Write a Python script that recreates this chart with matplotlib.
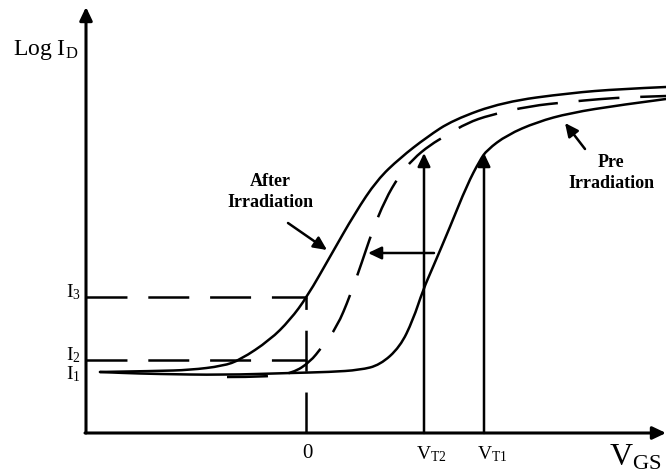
import numpy as np
import matplotlib.pyplot as plt
from matplotlib.path import Path
from matplotlib.patches import PathPatch

plt.rcParams['font.family'] = ['Liberation Serif', 'DejaVu Serif']
plt.rcParams['mathtext.fontset'] = 'custom'
plt.rcParams['mathtext.rm'] = 'Liberation Serif'
plt.rcParams['mathtext.it'] = 'Liberation Serif:italic'
plt.rcParams['mathtext.bf'] = 'Liberation Serif:bold'
plt.rcParams['lines.scale_dashes'] = False

# --- кривые (координаты схемы, ось y вниз) ---
pre_x = [100, 123, 157, 223, 290, 330, 360, 380, 400, 413, 423, 433, 450, 467,
         480, 487, 507, 537, 570, 620, 666]
pre_y = [372, 373, 374, 375, 373, 372, 370, 365, 347, 320, 290, 267, 227, 185,
         160, 150, 135, 122, 113, 105, 99]

after_x = [100, 157, 190, 223, 240, 270, 290, 307, 331, 355, 377, 400, 427, 453,
           503, 570, 620, 666]
after_y = [372, 371, 370, 366, 360, 340, 320, 297, 255, 213, 180, 158, 137, 120,
           102, 93, 89, 87]

mid_x = [227, 267, 293, 310, 322, 337, 350, 362, 372, 385, 399, 413, 430, 447,
         467, 490, 530, 568, 600, 632, 666]
mid_y = [377, 377, 373, 362, 347, 327, 296, 262, 232, 200, 176, 159, 145, 135,
         123, 115, 106, 102, 99, 97, 96]

# уровни токов и напряжения
x_axis, y_axis = 86, 433
i_levels = {'I$_3$': 297, 'I$_2$': 360}
i1_level = 379
v0 = 306
vt2, vt1 = 424, 484
vt_top = 153
shift_y, shift_from, shift_to = 253, 434, 368

fig = plt.figure(figsize=(6.66, 4.72), dpi=100)
ax = fig.add_axes([0, 0, 1, 1])
ax.set_xlim(0, 666)
ax.set_ylim(472, 0)
ax.axis('off')

lw = 1.8
dash = (0, (29.5, 15))

def arrow(x0, y0, x1, y1, width=lw):
    ax.annotate('', xy=(x1, y1), xytext=(x0, y0),
                arrowprops=dict(arrowstyle='-|>,head_length=0.8,head_width=0.38',
                                lw=width, color='black', shrinkA=0, shrinkB=0,
                                mutation_scale=10))

def smooth_curve(xs, ys, **kw):
    # квадратичные Безье через середины отрезков
    pts = np.column_stack([xs, ys]).astype(float)
    verts = [pts[0]]
    codes = [Path.MOVETO]
    for i in range(1, len(pts) - 1):
        m = (pts[i] + pts[i + 1]) / 2 if i < len(pts) - 2 else pts[i + 1]
        verts += [pts[i], m]
        codes += [Path.CURVE3, Path.CURVE3]
    ax.add_patch(PathPatch(Path(verts, codes), fill=False, color='black',
                           lw=lw, joinstyle='round', **kw))

# оси
arrow(x_axis, y_axis, x_axis, 7, width=2.2)
arrow(x_axis - 1, y_axis, 666, y_axis, width=2.2)

# кривые
smooth_curve(pre_x, pre_y, capstyle='round')
smooth_curve(after_x, after_y, capstyle='round')
smooth_curve(mid_x, mid_y, linestyle=dash, capstyle='butt')

# пунктир уровней
for label, yl in i_levels.items():
    ax.plot([x_axis, v0 + 1], [yl, yl], color='black', lw=lw, linestyle=dash)
    ax.text(81, yl, label, ha='right', va='baseline', fontsize=14)
ax.text(81, i1_level, 'I$_1$', ha='right', va='baseline', fontsize=14)
ax.plot([v0, v0], [y_axis, i_levels['I$_3$']], color='black', lw=lw, linestyle=dash)

# стрелки порогов
arrow(vt2, y_axis, vt2, vt_top)
arrow(vt1, y_axis, vt1, vt_top)
arrow(shift_from, shift_y, shift_to, shift_y)

# подписи
ax.text(13, 55, r'Log I$_\mathrm{D}$', ha='left', va='baseline', fontsize=17)
ax.text(307, 454, '0', ha='center', va='center', fontsize=15)
ax.text(416, 459, r'V$_\mathrm{T2}$', ha='left', va='baseline', fontsize=14)
ax.text(477, 459, r'V$_\mathrm{T1}$', ha='left', va='baseline', fontsize=14)
ax.text(609, 465, r'V$_\mathrm{GS}$', ha='left', va='baseline', fontsize=23)

ax.text(270, 192, 'After\nIrradiation', ha='center', va='center', fontsize=13,
        fontweight='bold', linespacing=1.3)
arrow(288, 223, 327, 250)
ax.text(611, 173, 'Pre\nIrradiation', ha='center', va='center', fontsize=13,
        fontweight='bold', linespacing=1.3)
arrow(585, 149, 565, 123)

fig.savefig('out.png', dpi=100)
